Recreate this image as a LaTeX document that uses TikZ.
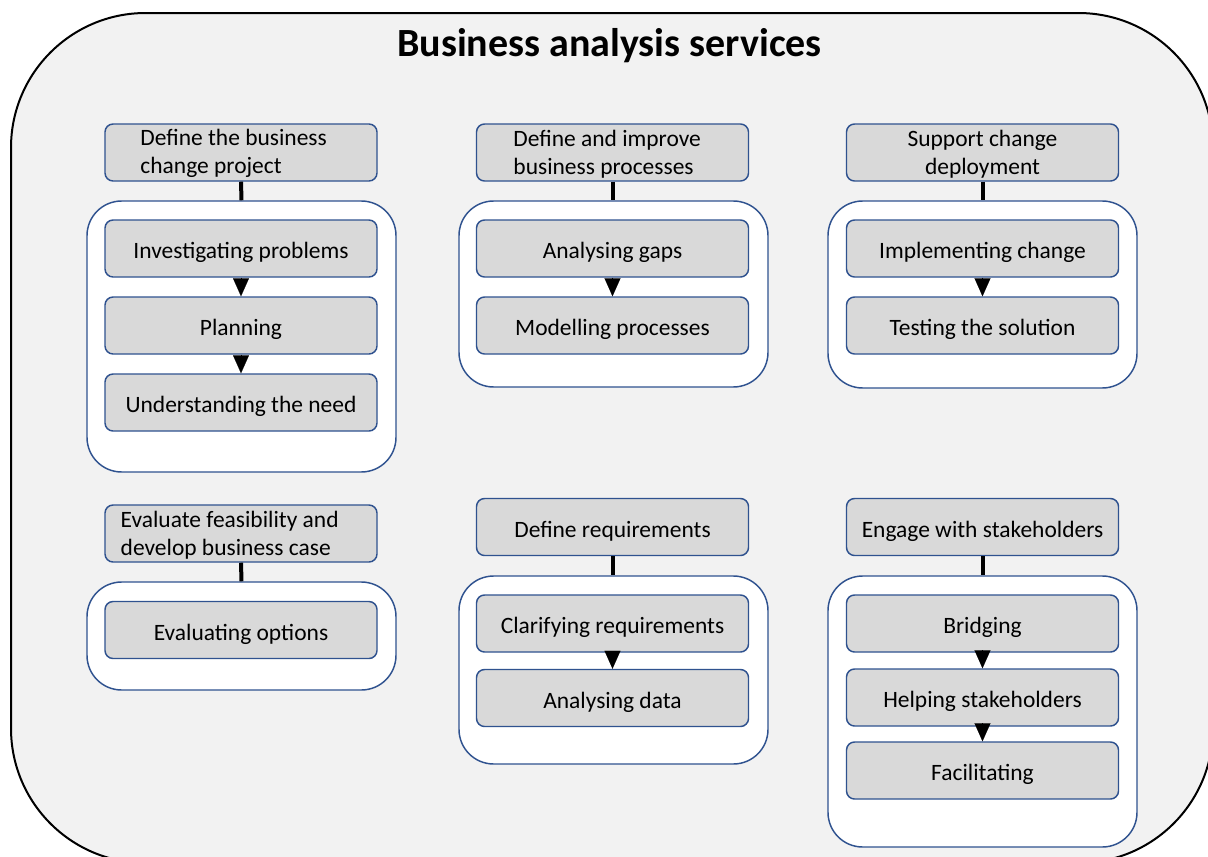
\documentclass[tikz,border=0pt]{standalone}
\usepackage{fontspec}
\setmainfont{Carlito}
\usetikzlibrary{arrows.meta}
\definecolor{bgray}{HTML}{F2F2F2}
\definecolor{boxgray}{HTML}{D9D9D9}
\definecolor{bblue}{HTML}{2F528F}
\tikzset{
  frame/.style={draw=black, line width=1.5pt, fill=bgray, rounded corners=101pt},
  group/.style={draw=bblue, line width=1.1pt, fill=white, rounded corners=26pt, minimum width=231.75pt, inner sep=0pt},
  item/.style={draw=bblue, line width=1.1pt, fill=boxgray, rounded corners=6pt, minimum width=204pt, minimum height=42.75pt, inner sep=0pt},
  itemtext/.style={font=\fontsize{17.6pt}{21pt}\selectfont, text=black, inner sep=0pt, yshift=-3pt, align=center},
  twoline/.style={itemtext, yshift=2pt},
  twolinel/.style={twoline, align=left},
  link/.style={draw=black, line width=3pt},
  seq/.style={draw=black, line width=0.1pt, -{Triangle[width=12pt,length=13.5pt]}},
  title/.style={font=\fontsize{30pt}{34pt}\selectfont\bfseries, inner sep=0pt}
}
\begin{document}
\begin{tikzpicture}[x=0.75pt,y=-0.75pt]
\useasboundingbox (0,0) rectangle (1208,857);
\clip (0,0) rectangle (1208,857);
\fill[white] (0,0) rectangle (1208,857);
\draw[frame] (11,13) rectangle (1213,863);
\node[title] (t) at (609.5,46) {Business analysis services};

% ---- Row 1, column 1
\node[group, minimum height=203.25pt] (g1) at (241.5,336.5) {};
\node[item, label={[twolinel, xshift=-5.5pt]center:Define the business\\change project}] (h1) at (241,152.5) {};
\node[item, label={[itemtext]center:Investigating problems}] (a1) at (241,248.5) {};
\node[item, label={[itemtext]center:Planning}] (a2) at (241,325.5) {};
\node[item, label={[itemtext]center:Understanding the need}] (a3) at (241,402.5) {};
\draw[link] (h1.south) -- (g1.north);
\draw[seq] (a1.south) -- (a2.north);
\draw[seq] (a2.south) -- (a3.north);

% ---- Row 1, column 2
\node[group, minimum height=139.5pt] (g2) at (613.5,294) {};
\node[item, label={[twolinel, xshift=-4pt]center:Define and improve\\business processes}] (h2) at (612.5,152.5) {};
\node[item, label={[itemtext]center:Analysing gaps}] (b1) at (612.5,248.5) {};
\node[item, label={[itemtext]center:Modelling processes}] (b2) at (612.5,325.5) {};
\draw[link] (h2.south) -- (h2.south |- g2.north);
\draw[seq] (b1.south) -- (b2.north);

% ---- Row 1, column 3
\node[group, minimum height=140.25pt] (g3) at (982.5,294.5) {};
\node[item, label={[twoline]center:Support change\\deployment}] (h3) at (982.5,152.5) {};
\node[item, label={[itemtext]center:Implementing change}] (c1) at (982.5,248.5) {};
\node[item, label={[itemtext]center:Testing the solution}] (c2) at (982.5,325.5) {};
\draw[link] (h3.south) -- (g3.north);
\draw[seq] (c1.south) -- (c2.north);

% ---- Row 2, column 1
\node[group, minimum height=81pt] (g4) at (241.5,636) {};
\node[item, label={[twolinel, xshift=-8.5pt]center:Evaluate feasibility and\\develop business case}] (h4) at (241,533.5) {};
\node[item, label={[itemtext]center:Evaluating options}] (d1) at (241,630) {};
\draw[link] (h4.south) -- (g4.north);

% ---- Row 2, column 2
\node[group, minimum height=141pt] (g5) at (613.5,670) {};
\node[item, label={[itemtext]center:Define requirements}] (h5) at (612.5,527) {};
\node[item, label={[itemtext]center:Clarifying requirements}] (e1) at (612.5,623.5) {};
\node[item, label={[itemtext]center:Analysing data}] (e2) at (612.5,698) {};
\draw[link] (h5.south) -- (h5.south |- g5.north);
\draw[seq] (e1.south) -- (e2.north);

% ---- Row 2, column 3
\node[group, minimum height=203.25pt] (g6) at (982.5,711.5) {};
\node[item, label={[itemtext]center:Engage with stakeholders}] (h6) at (982.5,527) {};
\node[item, label={[itemtext]center:Bridging}] (f1) at (982.5,623.5) {};
\node[item, label={[itemtext]center:Helping stakeholders}] (f2) at (982.5,697.5) {};
\node[item, label={[itemtext]center:Facilitating}] (f3) at (982.5,770.5) {};
\draw[link] (h6.south) -- (g6.north);
\draw[seq] (f1.south) -- (f2.north);
\draw[seq] (f2.south) -- (f3.north);
\end{tikzpicture}
\end{document}
